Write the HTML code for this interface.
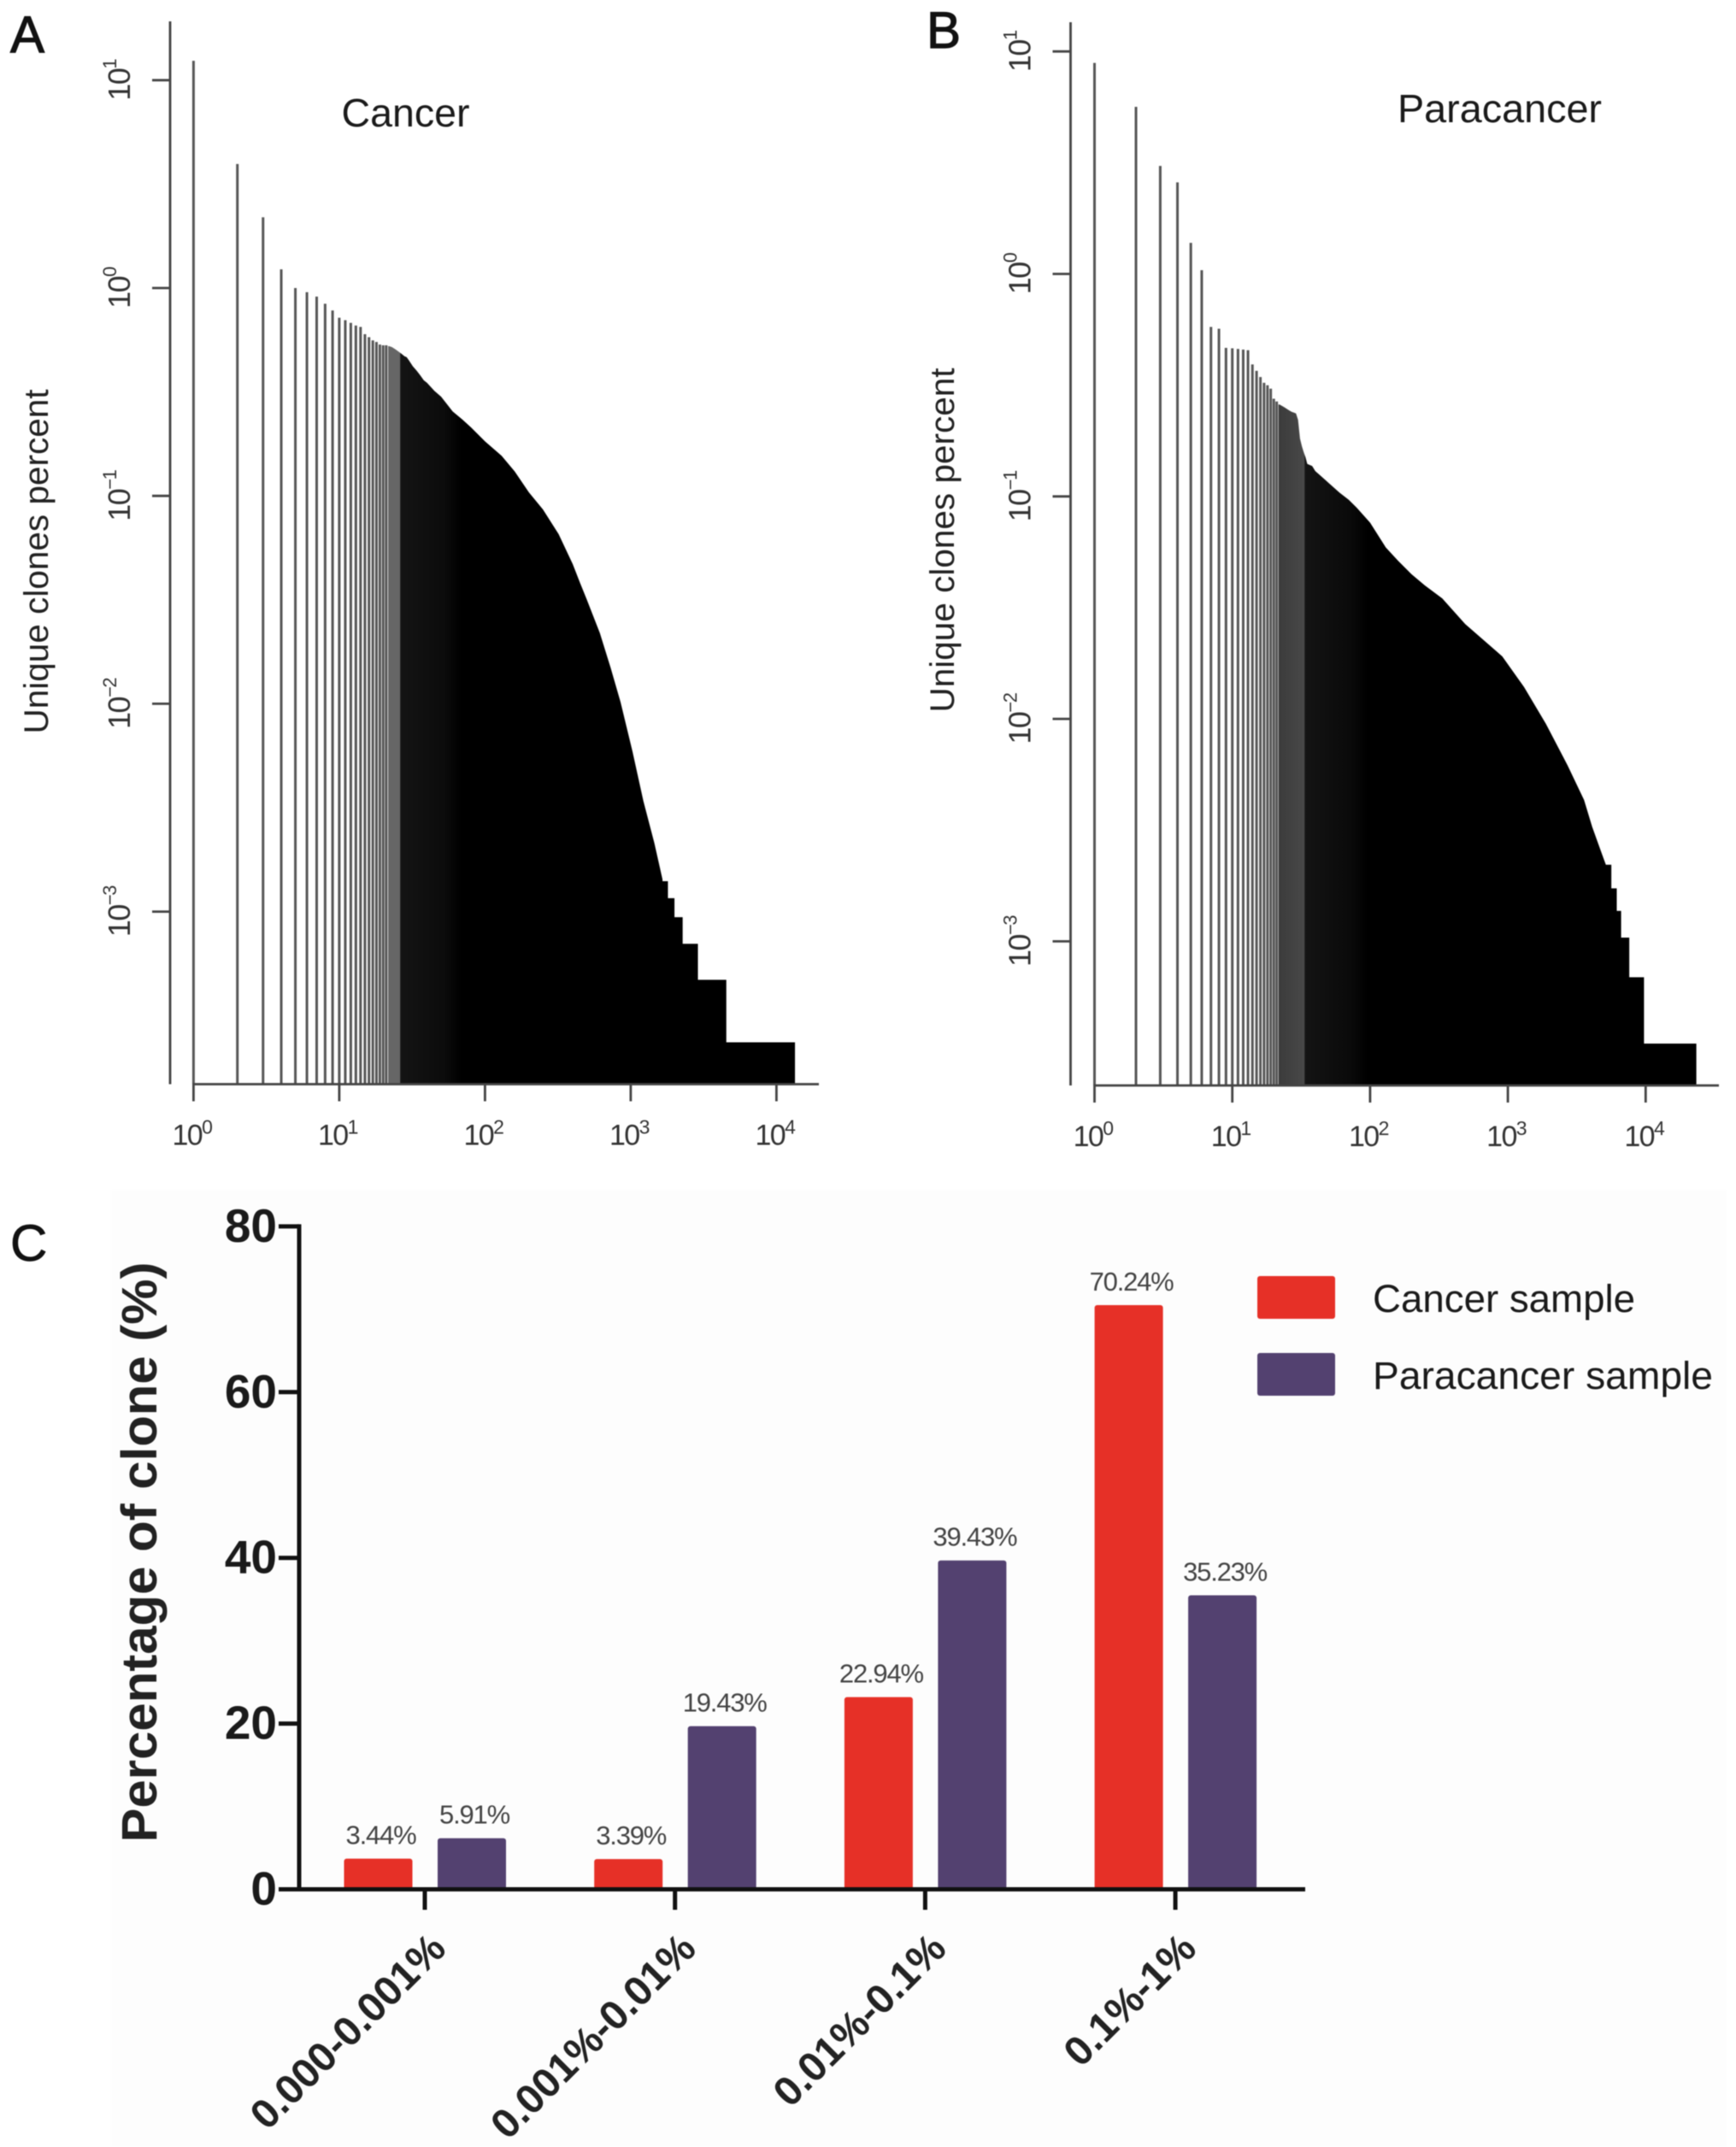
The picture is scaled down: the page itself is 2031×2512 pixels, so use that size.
<!DOCTYPE html>
<html lang="en">
<head>
<meta charset="utf-8">
<title>Clone distribution figure</title>
<style>
html,body{margin:0;padding:0;background:#fff;}
#figure{display:block;filter:blur(.6px);font-family:"Liberation Sans",Arial,sans-serif;}
</style>
</head>
<body>
<svg id="figure" xmlns="http://www.w3.org/2000/svg" width="2031" height="2512" viewBox="0 0 2031 2512">
  <defs>
    <linearGradient id="tail-fill-a" gradientUnits="userSpaceOnUse" x1="455" x2="540" y1="0" y2="0">
      <stop offset="0" stop-color="#666"/>
      <stop offset=".15" stop-color="#666"/>
      <stop offset=".16" stop-color="#141414"/>
      <stop offset=".75" stop-color="#0c0c0c"/>
      <stop offset="1" stop-color="#000"/>
    </linearGradient>
    <linearGradient id="tail-fill-b" gradientUnits="userSpaceOnUse" x1="1497" x2="1600" y1="0" y2="0">
      <stop offset="0" stop-color="#3c3c3c"/>
      <stop offset=".28" stop-color="#484848"/>
      <stop offset=".29" stop-color="#141414"/>
      <stop offset=".8" stop-color="#0a0a0a"/>
      <stop offset="1" stop-color="#000"/>
    </linearGradient>
  </defs>
  <rect x="0" y="0" width="2031" height="2512" fill="#ffffff"/>
  <rect x="130" y="1392" width="1890" height="1120" fill="#fdfdfd"/>
  <g id="panel-a"></g>
  <g id="panel-b"></g>
  <g id="panel-c"></g>
  <text x="12" y="61" font-size="60" fill="#111" stroke="#111" stroke-width="1.2">A</text>
  <text x="1084" y="56" font-size="60" fill="#111" stroke="#111" stroke-width="1.2">B</text>
  <text x="12" y="1475" font-size="60" fill="#111" stroke="#111" stroke-width=".8">C</text>
  <text x="399.5" y="148" font-size="46" fill="#1a1a1a" textLength="150" lengthAdjust="spacingAndGlyphs">Cancer</text>
  <text x="1635" y="143" font-size="46" fill="#1a1a1a" textLength="239" lengthAdjust="spacingAndGlyphs">Paracancer</text>
</svg>
<script>
/* Panel A: cancer sample, percent of clones by rank */
const cancerLinePercents = [12.4,3.95,2.19,1.23,1.0,0.955,0.91,0.84,0.78,0.72,0.70,0.68,0.66,0.65,0.60,0.58,0.56,0.55,0.535,0.53,0.53];
const cancerTailRanks = [22,23,24,25,26,27,28,29,30,32,34,36,38,40,45,50,60,70,80,100,130,160,200,250,320,400,450,497,614,728,851,1028,1222,1452,1652,1652,1800,1800,1996,1996,2272,2272,2891,2891,4528,4528,13400];
const cancerTailPercents = [0.525,0.52,0.51,0.50,0.49,0.48,0.47,0.465,0.45,0.42,0.40,0.38,0.36,0.35,0.32,0.30,0.255,0.233,0.214,0.183,0.156,0.131,0.104,0.086,0.0655,0.047,0.038,0.032,0.0219,0.0149,0.0102,0.0059,0.0034,0.00214,0.00143,0.0014,0.0014,0.00116,0.00116,0.00094,0.00094,0.0007,0.0007,0.00047,0.00047,0.000235,0.000235];

/* Panel B: paracancer sample, percent of clones by rank */
const paracancerLinePercents = [8.88,5.64,3.06,2.58,1.38,1.04,0.578,0.567,0.465,0.463,0.46,0.457,0.454,0.392,0.367,0.344,0.324,0.316,0.305,0.275,0.267];
const paracancerTailRanks = [22,23,24,25,26,27,28,29,30,31,32,33,34,35,36,38,40,45,50,60,70,80,100,130,160,200,250,334,490,911,1311,1888,2717,3573,4094,4696,5143,5635,5635,6170,6170,6637,6637,7605,7605,9727,9727,23330];
const paracancerTailPercents = [0.259,0.255,0.251,0.247,0.243,0.24,0.238,0.236,0.221,0.182,0.168,0.158,0.15,0.14,0.139,0.137,0.13,0.122,0.115,0.104,0.0966,0.089,0.0762,0.059,0.0513,0.0447,0.0398,0.0348,0.0267,0.0191,0.0139,0.0095,0.00617,0.00432,0.00327,0.00258,0.00221,0.00221,0.00173,0.00173,0.00137,0.00137,0.00104,0.00104,0.00069,0.00069,0.000347,0.000347];

/* Shared log-axis tick exponents */
const rankTickExponents = [0,1,2,3,4];
const percentTickExponents = [1,0,-1,-2,-3];

/* Panel C: grouped bars */
const barCategories = ['0.000-0.001%','0.001%-0.01%','0.01%-0.1%','0.1%-1%'];
const cancerSampleValues = [3.44,3.39,22.94,70.24];
const paracancerSampleValues = [5.91,19.43,39.43,35.23];
const barValueTicks = [0,20,40,60,80];
const legendLabels = ['Cancer sample','Paracancer sample'];

const NS = 'http://www.w3.org/2000/svg';
function make(parent, tag, attrs, text) {
  const el = document.createElementNS(NS, tag);
  for (const k in attrs) el.setAttribute(k, attrs[k]);
  if (text !== undefined) el.textContent = text;
  parent.appendChild(el);
  return el;
}

function powerLabel(parent, attrs, exponent, supSize, supRise) {
  const t = make(parent, 'text', attrs);
  const base = make(t, 'tspan', {}, '10');
  
  
  const sup = make(t, 'tspan', {'font-size': supSize, dy: -supRise}, String(exponent).replace('-', '\u2212'));
  
  
  return t;
}

function drawRankPanel(group, linePercents, tailRanks, tailPercents, frame) {
  const xScale = r => frame.x0 + frame.xDecade * Math.log10(r);
  const yScale = v => frame.y0 - frame.yDecade * Math.log10(v);
  const base = frame.axisY;

  linePercents.forEach((v, i) => {
    const x = xScale(i + 1);
    const line = make(group, 'line', {x1: x, x2: x, y1: yScale(v), y2: base, stroke: '#565656', 'stroke-width': 3});
    
    
  });

  let pts = xScale(tailRanks[0]) - 1.2 + ',' + base + ' ' + (xScale(tailRanks[0]) - 1.2) + ',' + yScale(tailPercents[0]);
  tailRanks.forEach((r, i) => {
    pts += ' ' + xScale(r) + ',' + yScale(tailPercents[i]);
  });
  pts += ' ' + xScale(tailRanks[tailRanks.length - 1]) + ',' + base;
  const area = make(group, 'polygon', {points: pts, fill: frame.fill});
  
  

  const yAxis = make(group, 'line', {x1: frame.yAxisX, x2: frame.yAxisX, y1: frame.yAxisTop, y2: base, stroke: '#444', 'stroke-width': 2.8});
  
  

  const xAxis = make(group, 'line', {x1: xScale(1) - 1, x2: frame.xAxisEnd, y1: base, y2: base, stroke: '#444', 'stroke-width': 2.8});
  
  

  rankTickExponents.forEach(e => {
    const x = xScale(Math.pow(10, e));
    const tick = make(group, 'line', {x1: x, x2: x, y1: base, y2: base + 20, stroke: '#444', 'stroke-width': 2.8});
    
    
    const label = powerLabel(group, {x: x - 2, y: base + 71, 'font-size': 34, fill: '#333', 'text-anchor': 'middle', 'letter-spacing': -1.6}, e, 23, 13);
    
    
  });

  percentTickExponents.forEach(e => {
    const y = yScale(Math.pow(10, e));
    const tick = make(group, 'line', {x1: frame.yAxisX - 21, x2: frame.yAxisX, y1: y, y2: y, stroke: '#444', 'stroke-width': 2.8});
    
    
    const lx = frame.yAxisX - 47;
    const label = powerLabel(group, {x: 0, y: 0, transform: 'translate(' + lx + ',' + y + ') rotate(-90)', 'font-size': 36, fill: '#333', 'text-anchor': 'middle', 'letter-spacing': -1.5}, e, 22, 16);
    
    
  });

  const title = make(group, 'text', {x: 0, y: 0, transform: 'translate(' + frame.titleX + ',' + frame.titleY + ') rotate(-90)', 'font-size': 40, fill: '#222', 'text-anchor': 'middle', textLength: 403, lengthAdjust: 'spacingAndGlyphs'}, 'Unique clones percent');
  
  
}

drawRankPanel(document.getElementById('panel-a'), cancerLinePercents, cancerTailRanks, cancerTailPercents, {
  x0: 226.4, xDecade: 170.5, y0: 337, yDecade: 243.2, axisY: 1268.5, yAxisX: 199, yAxisTop: 25, xAxisEnd: 958,
  titleX: 56, titleY: 657, fill: 'url(#tail-fill-a)'
});
drawRankPanel(document.getElementById('panel-b'), paracancerLinePercents, paracancerTailRanks, paracancerTailPercents, {
  x0: 1280.5, xDecade: 161.2, y0: 320.5, yDecade: 260.3, axisY: 1270, yAxisX: 1252.5, yAxisTop: 26, xAxisEnd: 2011,
  titleX: 1116, titleY: 632, fill: 'url(#tail-fill-b)'
});

/* Panel C */
(function () {
  const g = document.getElementById('panel-c');
  const y0 = 2210.5, perUnit = 9.695, barWidth = 80, firstTick = 497, groupStep = 292.7;
  const yScale = v => y0 - perUnit * v;
  const catX = i => firstTick + groupStep * i;
  const colors = ['#e63027', '#534170'];

  [cancerSampleValues, paracancerSampleValues].forEach((series, s) => {
    series.forEach((v, i) => {
      const cx = catX(i) + (s === 0 ? -54.5 : 55);
      const top = yScale(v) - 2.5;
      const bar = make(g, 'rect', {x: cx - barWidth / 2, y: top, width: barWidth, height: y0 - top, rx: 3, fill: colors[s]});
      
      
      const lab = make(g, 'text', {x: cx + 3, y: top - 17, 'font-size': 31, fill: '#444', 'text-anchor': 'middle', 'letter-spacing': -1.2}, v.toFixed(2) + '%');
      
      
    });
  });

  const yAxis = make(g, 'line', {x1: 350, x2: 350, y1: yScale(80) - 2.5, y2: y0 + 2.5, stroke: '#111', 'stroke-width': 5});
  
  
  const xAxis = make(g, 'line', {x1: 326, x2: 1527, y1: y0, y2: y0, stroke: '#111', 'stroke-width': 5});
  
  

  barValueTicks.forEach(v => {
    const y = yScale(v);
    if (v !== 0) {
      const tick = make(g, 'line', {x1: 326, x2: 350, y1: y, y2: y, stroke: '#111', 'stroke-width': 5});
      
      
    }
    const label = make(g, 'text', {x: 324, y: y + 18, 'font-size': 55, 'font-weight': 'bold', fill: '#1a1a1a', 'text-anchor': 'end'}, String(v));
    
    
  });

  barCategories.forEach((c, i) => {
    const x = catX(i);
    const tick = make(g, 'line', {x1: x, x2: x, y1: y0, y2: y0 + 24, stroke: '#111', 'stroke-width': 5});
    
    
    const label = make(g, 'text', {x: 0, y: 0, transform: 'translate(' + (x + 27) + ',' + (y0 + 72) + ') rotate(-45)', 'font-size': 48, 'font-weight': 'bold', fill: '#222', 'text-anchor': 'end'}, c);
    
    
  });

  const yTitle = make(g, 'text', {x: 0, y: 0, transform: 'translate(183,1816) rotate(-90)', 'font-size': 58, 'font-weight': 'bold', fill: '#222', 'text-anchor': 'middle', textLength: 679, lengthAdjust: 'spacingAndGlyphs'}, 'Percentage of clone (%)');
  
  

  legendLabels.forEach((name, i) => {
    const top = 1493 + i * 90;
    const swatch = make(g, 'rect', {x: 1471, y: top, width: 91, height: 50, rx: 3, fill: colors[i]});
    
    
    const label = make(g, 'text', {x: 1606, y: top + 42, 'font-size': 45, fill: '#1a1a1a', textLength: i === 0 ? 307 : 398, lengthAdjust: 'spacingAndGlyphs'}, name);
    
    
  });
})();
</script>
</body>
</html>
